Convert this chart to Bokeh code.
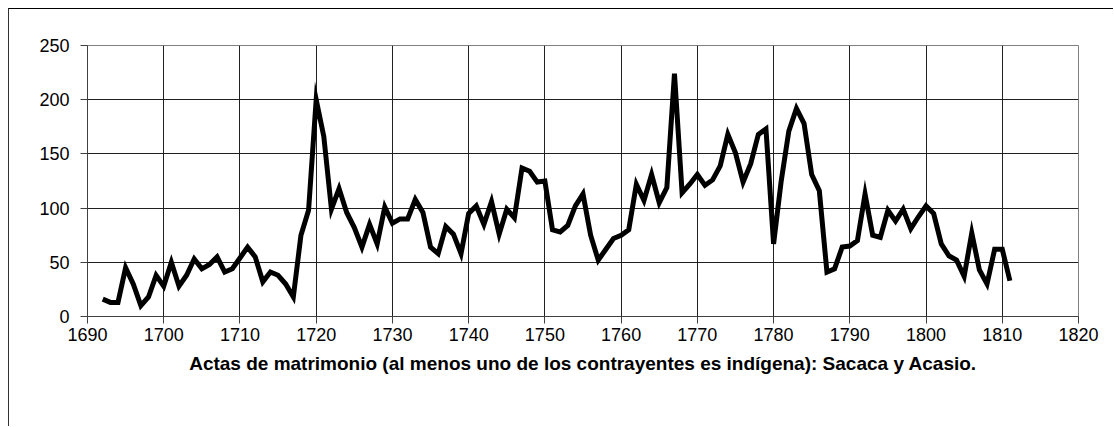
from bokeh.plotting import figure
from bokeh.models import Range1d, FixedTicker
from bokeh.embed import file_html
from bokeh.resources import INLINE

years = list(range(1692, 1812))
matrimonios = [
    16, 13, 13, 45, 30, 10, 18, 38, 28, 50,   # 1692-1701
    28, 38, 53, 44, 48, 55, 41, 44, 54, 64,   # 1702-1711
    55, 32, 41, 38, 30, 18, 75, 98, 200, 166, # 1712-1721
    99, 118, 96, 82, 64, 85, 67, 101, 86, 90, # 1722-1731
    90, 108, 96, 64, 58, 83, 76, 58, 95, 102, # 1732-1741
    85, 106, 76, 99, 91, 137, 134, 124, 125, 80,  # 1742-1751
    78, 84, 102, 113, 75, 52, 62, 72, 75, 80, # 1752-1761
    122, 107, 131, 105, 119, 224, 114, 122, 131, 121,  # 1762-1771
    126, 139, 168, 151, 124, 141, 168, 173, 67, 125,   # 1772-1781
    171, 192, 178, 131, 116, 41, 44, 64, 65, 70,  # 1782-1791
    113, 75, 73, 98, 88, 99, 81, 92, 102, 95, # 1792-1801
    67, 56, 52, 37, 77, 43, 30, 62, 62, 33,   # 1802-1811
]
x_ticks = list(range(1690, 1821, 10))
y_ticks = [0, 50, 100, 150, 200, 250]
x_title = "Actas de matrimonio (al menos uno de los contrayentes es indígena): Sacaca y Acasio."

p = figure(width=1105, height=418, output_backend="svg", toolbar_location=None,
           x_range=Range1d(1690, 1820), y_range=Range1d(0, 250),
           min_border_left=78, min_border_right=36, min_border_top=36, min_border_bottom=111)
p.styles = {"margin-left": "8px", "margin-top": "8px",
            "border-left": "1px solid #333333", "border-top": "1px solid #000000"}
p.background_fill_color = "white"
p.border_fill_color = "white"
p.outline_line_color = "#808080"
p.outline_line_width = 1

p.line(years, matrimonios, line_color="black", line_width=5, line_join="miter")

font = "Liberation Sans"
for ax in (p.xaxis[0], p.yaxis[0]):
    ax.axis_line_color = "#404040"
    ax.major_tick_line_color = "#404040"
    ax.major_tick_out = 7
    ax.major_tick_in = 0
    ax.minor_tick_line_color = None
    ax.major_label_text_font = font
    ax.major_label_text_font_size = "18px"
    ax.major_label_text_color = "black"

p.xaxis.ticker = FixedTicker(ticks=x_ticks)
p.yaxis.ticker = FixedTicker(ticks=y_ticks)
p.xaxis.major_label_standoff = 4
p.yaxis.major_label_standoff = 11
p.xaxis.axis_label = x_title
p.xaxis.axis_label_text_font = font
p.xaxis.axis_label_text_font_style = "bold"
p.xaxis.axis_label_text_font_size = "19px"
p.xaxis.axis_label_text_color = "black"
p.xaxis.axis_label_standoff = 9

p.xgrid.ticker = FixedTicker(ticks=x_ticks)
p.ygrid.ticker = FixedTicker(ticks=y_ticks)
for g in (p.xgrid[0], p.ygrid[0]):
    g.grid_line_color = "#202020"
    g.grid_line_width = 1
    g.grid_line_alpha = 1.0

open("out.html", "w").write(file_html(p, INLINE))
